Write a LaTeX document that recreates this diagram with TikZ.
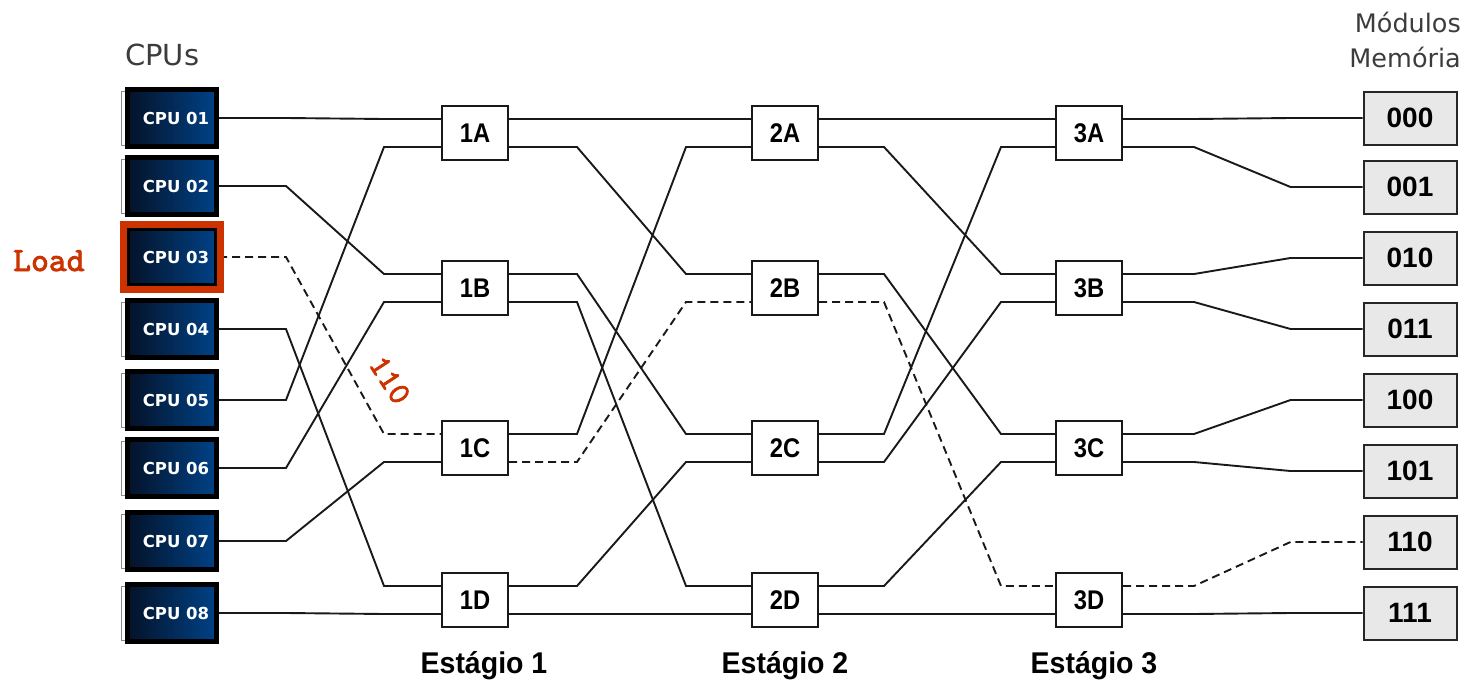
\documentclass[tikz,border=0pt]{standalone}
\usepackage{fontspec}
\setmainfont{Liberation Sans}
\newfontfamily\verdanaish{DejaVu Sans}
\newfontfamily\narrowfont[FakeStretch=0.88]{Liberation Sans}
\newfontfamily\stagefont[FakeStretch=0.95]{Liberation Sans}
\newfontfamily\courierfont[FakeBold=2.5]{lmmono10-regular.otf}
\usetikzlibrary{calc,fit}
\definecolor{navydark}{RGB}{4,18,40}
\definecolor{navylight}{RGB}{0,66,135}
\definecolor{loadred}{RGB}{204,51,0}
\definecolor{wirecol}{RGB}{25,25,25}
\definecolor{memfill}{RGB}{232,232,232}
\definecolor{titlegray}{RGB}{60,60,60}

\begin{document}
\begin{tikzpicture}[x=1pt,y=-1pt,
  wire/.style={draw=wirecol, line width=1.9pt},
  dashwire/.style={wire, dash pattern=on 8pt off 5pt},
  cpubox/.style={rectangle, draw=black, line width=5pt,
    left color=navydark, right color=navylight,
    minimum width=89pt, minimum height=57pt, inner sep=0pt,
    text=white, font=\verdanaish\bfseries\fontsize{16.5}{16.5}\selectfont},
  cpuedge/.style={draw=black!45, line width=1pt},
  switchbox/.style={rectangle, draw=black!90, fill=white, line width=2pt,
    minimum width=66pt, minimum height=54pt, inner sep=0pt,
    font=\narrowfont\bfseries\fontsize{27}{27}\selectfont},
  membox/.style={rectangle, draw=black!85, fill=memfill, line width=2pt,
    minimum width=93pt, minimum height=53pt, inner sep=0pt,
    font=\bfseries\fontsize{28}{28}\selectfont},
  highlight/.style={rectangle, draw=loadred, line width=7pt, inner sep=1.5pt},
  redlabel/.style={text=loadred, inner sep=0pt},
  title/.style={text=titlegray, inner sep=0pt, font=\verdanaish\fontsize{25.5}{25.5}\selectfont},
  stagelabel/.style={inner sep=0pt, font=\stagefont\bfseries\fontsize{30}{30}\selectfont}
]
\useasboundingbox (0,0) rectangle (1468,680);

% processors
\foreach \n/\y in {1/118,2/186,3/257,4/329,5/400,6/468,7/541,8/613}
  \node[cpubox] (cpu\n) at (172,\y) {\hspace*{8pt}CPU 0\n};
\foreach \n in {1,...,8}
  \draw[cpuedge] ($(cpu\n.north west)+(0,4)$) -- ++(-4,0) |- ($(cpu\n.south west)+(0,-4)$);

% switching elements
\foreach \s/\x in {1/475,2/785,3/1089}
  \foreach \r/\y in {A/133,B/288,C/448,D/600}
    \node[switchbox] (s\s\r) at (\x,\y) {\s\r};

% memory modules
\foreach \n/\lab/\y in {0/000/118,1/001/187,2/010/258,3/011/329,4/100/400,5/101/471,6/110/542,7/111/613}
  \node[membox] (m\n) at (1410,\y) {\lab};

% switch ports
\foreach \s in {1,2,3}{
  \foreach \r [count=\i from 0] in {A,B,C,D}{
    \pgfmathtruncatemacro\ka{2*\i}
    \pgfmathtruncatemacro\kb{2*\i+1}
    \coordinate (in\s-\ka) at ($(s\s\r.west)+(0,-14)$);
    \coordinate (in\s-\kb) at ($(s\s\r.west)+(0,14)$);
    \coordinate (out\s-\ka) at ($(s\s\r.east)+(0,-14)$);
    \coordinate (out\s-\kb) at ($(s\s\r.east)+(0,14)$);
  }
}

% processors to stage 1 (perfect shuffle)
\foreach \c/\t in {1/0,2/2,4/6,5/1,6/3,7/5,8/7}
  \draw[wire] (cpu\c.east) -- ++(67,0) -- ($(in1-\t)+(-57,0)$) -- (in1-\t);
\draw[dashwire] (cpu3.east) -- ++(67,0) -- ($(in1-4)+(-57,0)$) -- (in1-4);

% stage 1 to stage 2
\foreach \k/\t in {0/0,1/2,2/4,3/6,4/1,6/5,7/7}
  \draw[wire] (out1-\k) -- ++(68,0) -- ($(in2-\t)+(-65,0)$) -- (in2-\t);
\draw[dashwire] (out1-5) -- ++(68,0) -- ($(in2-3)+(-65,0)$) -- (in2-3);

% stage 2 to stage 3
\foreach \k/\t in {0/0,1/2,2/4,4/1,5/3,6/5,7/7}
  \draw[wire] (out2-\k) -- ++(65,0) -- ($(in3-\t)+(-54,0)$) -- (in3-\t);
\draw[dashwire] (out2-3) -- ++(65,0) -- ($(in3-6)+(-54,0)$) -- (in3-6);

% stage 3 to memory modules
\foreach \k in {0,1,2,3,4,5,7}
  \draw[wire] (out3-\k) -- ++(71,0) -- ($(m\k.west)+(-72,0)$) -- (m\k.west);
\draw[dashwire] (out3-6) -- ++(71,0) -- ($(m6.west)+(-72,0)$) -- (m6.west);

% highlighted requesting processor
\node[highlight, fit=(cpu3)] (cpu3hl) {};
\node[redlabel, anchor=base west, font=\courierfont\fontsize{34}{34}\selectfont] (loadlbl) at (13,271) {Load};
\node[redlabel, rotate=-57, font=\courierfont\fontsize{32}{32}\selectfont] (addrlbl) at (390,380) {110};

% titles
\node[title, anchor=base west, font=\verdanaish\fontsize{29}{29}\selectfont] (cputitle) at (125,65) {CPUs};
\node[title, anchor=base east] (memtitleA) at (1461,32) {Módulos};
\node[title, anchor=base east] (memtitleB) at (1461,67) {Memória};

% stage captions
\node[stagelabel, anchor=base] (stage1) at (484,673) {Estágio 1};
\node[stagelabel, anchor=base] (stage2) at (785,673) {Estágio 2};
\node[stagelabel, anchor=base] (stage3) at (1094,673) {Estágio 3};
\end{tikzpicture}
\end{document}
